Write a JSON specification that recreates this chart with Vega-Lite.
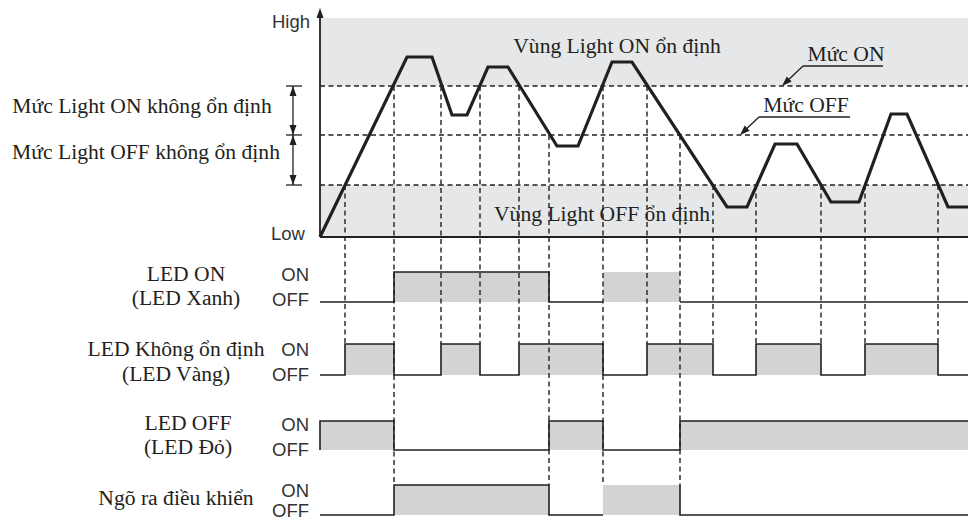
{
  "$schema": "https://vega.github.io/schema/vega-lite/v6.json",
  "width": 968,
  "height": 522,
  "autosize": {"type": "none"},
  "padding": 0,
  "background": "white",
  "config": {"view": {"stroke": null}},
  "datasets": {
    "bands": [
      {"t": 0, "t2": 648, "v": 151, "v2": 219},
      {"t": 0, "t2": 648, "v": 0, "v2": 52}
    ],
    "pulses": [
      {"row": "LED ON", "t": 74, "t2": 229, "v": -65, "v2": -35},
      {"row": "LED ON", "t": 283, "t2": 360, "v": -65, "v2": -35},
      {"row": "LED Vang", "t": 25, "t2": 74, "v": -138, "v2": -107},
      {"row": "LED Vang", "t": 121, "t2": 160, "v": -138, "v2": -107},
      {"row": "LED Vang", "t": 199, "t2": 283, "v": -138, "v2": -107},
      {"row": "LED Vang", "t": 327, "t2": 393, "v": -138, "v2": -107},
      {"row": "LED Vang", "t": 436, "t2": 501, "v": -138, "v2": -107},
      {"row": "LED Vang", "t": 545, "t2": 618, "v": -138, "v2": -107},
      {"row": "LED OFF", "t": 0, "t2": 74, "v": -213, "v2": -184},
      {"row": "LED OFF", "t": 229, "t2": 283, "v": -213, "v2": -184},
      {"row": "LED OFF", "t": 360, "t2": 648, "v": -213, "v2": -184},
      {"row": "Output", "t": 74, "t2": 229, "v": -278, "v2": -248},
      {"row": "Output", "t": 283, "t2": 360, "v": -278, "v2": -248}
    ],
    "levels": [
      {"t": 0, "t2": 648, "v": 151, "v2": 151},
      {"t": 0, "t2": 648, "v": 102, "v2": 102},
      {"t": 0, "t2": 648, "v": 52, "v2": 52}
    ],
    "drops": [
      {"t": 25, "t2": 25, "v": 52, "v2": -107},
      {"t": 74, "t2": 74, "v": 151, "v2": -248},
      {"t": 121, "t2": 121, "v": 151, "v2": -107},
      {"t": 160, "t2": 160, "v": 151, "v2": -107},
      {"t": 199, "t2": 199, "v": 151, "v2": -107},
      {"t": 229, "t2": 229, "v": 102, "v2": -248},
      {"t": 283, "t2": 283, "v": 151, "v2": -248},
      {"t": 327, "t2": 327, "v": 151, "v2": -107},
      {"t": 360, "t2": 360, "v": 102, "v2": -248},
      {"t": 393, "t2": 393, "v": 52, "v2": -107},
      {"t": 436, "t2": 436, "v": 52, "v2": -107},
      {"t": 501, "t2": 501, "v": 52, "v2": -107},
      {"t": 545, "t2": 545, "v": 52, "v2": -107},
      {"t": 618, "t2": 618, "v": 52, "v2": -107}
    ],
    "axes": [
      {"t": 0, "t2": 648, "v": 0, "v2": 0},
      {"t": 0, "t2": 0, "v": 0, "v2": 222}
    ],
    "marks": [
      {"t": -34, "t2": -18, "v": 151, "v2": 151},
      {"t": -34, "t2": -18, "v": 102, "v2": 102},
      {"t": -34, "t2": -18, "v": 52, "v2": 52},
      {"t": -27, "t2": -27, "v": 52, "v2": 151},
      {"t": 483, "t2": 563, "v": 171, "v2": 171},
      {"t": 483, "t2": 464, "v": 171, "v2": 153},
      {"t": 439, "t2": 530, "v": 120, "v2": 120},
      {"t": 439, "t2": 422, "v": 120, "v2": 104}
    ],
    "heads": [
      {"t": 0, "v": 224, "rot": 0},
      {"t": -27, "v": 146, "rot": 0},
      {"t": -27, "v": 107, "rot": 180},
      {"t": -27, "v": 97, "rot": 0},
      {"t": -27, "v": 57, "rot": 180},
      {"t": 465.6, "v": 154.5, "rot": 226},
      {"t": 423.6, "v": 105.4, "rot": 226}
    ],
    "wave": [
      {"i": 0, "t": 0, "v": 0},
      {"i": 1, "t": 87, "v": 180},
      {"i": 2, "t": 112, "v": 180},
      {"i": 3, "t": 132, "v": 122},
      {"i": 4, "t": 147, "v": 122},
      {"i": 5, "t": 168, "v": 170},
      {"i": 6, "t": 188, "v": 170},
      {"i": 7, "t": 237, "v": 91},
      {"i": 8, "t": 258, "v": 91},
      {"i": 9, "t": 292, "v": 175},
      {"i": 10, "t": 312, "v": 175},
      {"i": 11, "t": 407, "v": 30},
      {"i": 12, "t": 427, "v": 30},
      {"i": 13, "t": 455, "v": 93},
      {"i": 14, "t": 477, "v": 93},
      {"i": 15, "t": 511, "v": 35},
      {"i": 16, "t": 539, "v": 35},
      {"i": 17, "t": 571, "v": 123},
      {"i": 18, "t": 587, "v": 123},
      {"i": 19, "t": 628, "v": 30},
      {"i": 20, "t": 648, "v": 30}
    ],
    "trace": [
      {"seg": "on1", "i": 0, "t": 0, "v": -65},
      {"seg": "on1", "i": 1, "t": 74, "v": -65},
      {"seg": "on1", "i": 2, "t": 74, "v": -35},
      {"seg": "on1", "i": 3, "t": 229, "v": -35},
      {"seg": "on1", "i": 4, "t": 229, "v": -65},
      {"seg": "on1", "i": 5, "t": 283, "v": -65},
      {"seg": "on2", "i": 0, "t": 360, "v": -65},
      {"seg": "on2", "i": 1, "t": 648, "v": -65},
      {"seg": "yel", "i": 0, "t": 0, "v": -138},
      {"seg": "yel", "i": 1, "t": 25, "v": -138},
      {"seg": "yel", "i": 2, "t": 25, "v": -107},
      {"seg": "yel", "i": 3, "t": 74, "v": -107},
      {"seg": "yel", "i": 4, "t": 74, "v": -138},
      {"seg": "yel", "i": 5, "t": 121, "v": -138},
      {"seg": "yel", "i": 6, "t": 121, "v": -107},
      {"seg": "yel", "i": 7, "t": 160, "v": -107},
      {"seg": "yel", "i": 8, "t": 160, "v": -138},
      {"seg": "yel", "i": 9, "t": 199, "v": -138},
      {"seg": "yel", "i": 10, "t": 199, "v": -107},
      {"seg": "yel", "i": 11, "t": 283, "v": -107},
      {"seg": "yel", "i": 12, "t": 283, "v": -138},
      {"seg": "yel", "i": 13, "t": 327, "v": -138},
      {"seg": "yel", "i": 14, "t": 327, "v": -107},
      {"seg": "yel", "i": 15, "t": 393, "v": -107},
      {"seg": "yel", "i": 16, "t": 393, "v": -138},
      {"seg": "yel", "i": 17, "t": 436, "v": -138},
      {"seg": "yel", "i": 18, "t": 436, "v": -107},
      {"seg": "yel", "i": 19, "t": 501, "v": -107},
      {"seg": "yel", "i": 20, "t": 501, "v": -138},
      {"seg": "yel", "i": 21, "t": 545, "v": -138},
      {"seg": "yel", "i": 22, "t": 545, "v": -107},
      {"seg": "yel", "i": 23, "t": 618, "v": -107},
      {"seg": "yel", "i": 24, "t": 618, "v": -138},
      {"seg": "yel", "i": 25, "t": 648, "v": -138},
      {"seg": "off", "i": 0, "t": 0, "v": -213},
      {"seg": "off", "i": 1, "t": 0, "v": -184},
      {"seg": "off", "i": 2, "t": 74, "v": -184},
      {"seg": "off", "i": 3, "t": 74, "v": -213},
      {"seg": "off", "i": 4, "t": 229, "v": -213},
      {"seg": "off", "i": 5, "t": 229, "v": -184},
      {"seg": "off", "i": 6, "t": 283, "v": -184},
      {"seg": "off", "i": 7, "t": 283, "v": -213},
      {"seg": "off", "i": 8, "t": 360, "v": -213},
      {"seg": "off", "i": 9, "t": 360, "v": -184},
      {"seg": "off", "i": 10, "t": 648, "v": -184},
      {"seg": "out1", "i": 0, "t": 0, "v": -278},
      {"seg": "out1", "i": 1, "t": 74, "v": -278},
      {"seg": "out1", "i": 2, "t": 74, "v": -248},
      {"seg": "out1", "i": 3, "t": 229, "v": -248},
      {"seg": "out1", "i": 4, "t": 229, "v": -278},
      {"seg": "out1", "i": 5, "t": 283, "v": -278},
      {"seg": "out2", "i": 0, "t": 360, "v": -248},
      {"seg": "out2", "i": 1, "t": 360, "v": -278},
      {"seg": "out2", "i": 2, "t": 648, "v": -278}
    ],
    "serif": [
      {"label": "Vùng Light ON ổn định", "t": 297, "v": 184},
      {"label": "Vùng Light OFF ổn định", "t": 282, "v": 16},
      {"label": "Mức ON", "t": 526, "v": 176},
      {"label": "Mức OFF", "t": 486, "v": 125},
      {"label": "Mức Light ON không ổn định", "t": -178, "v": 124},
      {"label": "Mức Light OFF không ổn định", "t": -174, "v": 78},
      {"label": "LED ON", "t": -134, "v": -44},
      {"label": "(LED Xanh)", "t": -134, "v": -68},
      {"label": "LED Không ổn định", "t": -144, "v": -119},
      {"label": "(LED Vàng)", "t": -144, "v": -144},
      {"label": "LED OFF", "t": -132, "v": -193},
      {"label": "(LED Đỏ)", "t": -132, "v": -217},
      {"label": "Ngõ ra điều khiển", "t": -144, "v": -268}
    ],
    "sans": [
      {"label": "High", "t": -10, "v": 209},
      {"label": "Low", "t": -15, "v": -3},
      {"label": "ON", "t": -11, "v": -44},
      {"label": "OFF", "t": -11, "v": -69},
      {"label": "ON", "t": -11, "v": -119},
      {"label": "OFF", "t": -11, "v": -144},
      {"label": "ON", "t": -11, "v": -194},
      {"label": "OFF", "t": -11, "v": -219},
      {"label": "ON", "t": -11, "v": -260},
      {"label": "OFF", "t": -11, "v": -280}
    ]
  },
  "encoding": {
    "x": {"field": "t", "type": "quantitative", "axis": null, "scale": {"domain": [-320, 648], "nice": false, "zero": false}},
    "y": {"field": "v", "type": "quantitative", "axis": null, "scale": {"domain": [-285, 237], "nice": false, "zero": false}}
  },
  "layer": [
    {
      "data": {"name": "bands"},
      "mark": {"type": "rect", "color": "#e6e7e8"},
      "encoding": {"x2": {"field": "t2"}, "y2": {"field": "v2"}}
    },
    {
      "data": {"name": "pulses"},
      "mark": {"type": "rect", "color": "#d1d3d4"},
      "encoding": {"x2": {"field": "t2"}, "y2": {"field": "v2"}}
    },
    {
      "data": {"name": "levels"},
      "mark": {"type": "rule", "color": "#231f20", "strokeWidth": 1.4, "strokeDash": [5, 3.5]},
      "encoding": {"x2": {"field": "t2"}, "y2": {"field": "v2"}}
    },
    {
      "data": {"name": "drops"},
      "mark": {"type": "rule", "color": "#231f20", "strokeWidth": 1.4, "strokeDash": [5, 3.5]},
      "encoding": {"x2": {"field": "t2"}, "y2": {"field": "v2"}}
    },
    {
      "data": {"name": "axes"},
      "mark": {"type": "rule", "color": "#231f20", "strokeWidth": 1.8},
      "encoding": {"x2": {"field": "t2"}, "y2": {"field": "v2"}}
    },
    {
      "data": {"name": "marks"},
      "mark": {"type": "rule", "color": "#231f20", "strokeWidth": 1.3},
      "encoding": {"x2": {"field": "t2"}, "y2": {"field": "v2"}}
    },
    {
      "data": {"name": "trace"},
      "mark": {"type": "line", "color": "#231f20", "strokeWidth": 1.6, "strokeJoin": "miter"},
      "encoding": {"detail": {"field": "seg"}, "order": {"field": "i", "type": "quantitative"}}
    },
    {
      "data": {"name": "wave"},
      "mark": {"type": "line", "color": "#231f20", "strokeWidth": 3.2, "strokeJoin": "miter"},
      "encoding": {"order": {"field": "i", "type": "quantitative"}}
    },
    {
      "data": {"name": "heads"},
      "mark": {"type": "point", "shape": "M0,-1L-0.7,1L0.7,1Z", "filled": true, "color": "#231f20", "size": 100, "opacity": 1},
      "encoding": {"angle": {"field": "rot", "type": "quantitative", "scale": null}}
    },
    {
      "data": {"name": "serif"},
      "mark": {"type": "text", "font": "Liberation Serif", "fontSize": 21.6, "align": "center", "baseline": "alphabetic", "color": "#231f20"},
      "encoding": {"text": {"field": "label"}}
    },
    {
      "data": {"name": "sans"},
      "mark": {"type": "text", "font": "Liberation Sans", "fontSize": 18.5, "align": "right", "baseline": "alphabetic", "color": "#333333"},
      "encoding": {"text": {"field": "label"}}
    }
  ]
}
